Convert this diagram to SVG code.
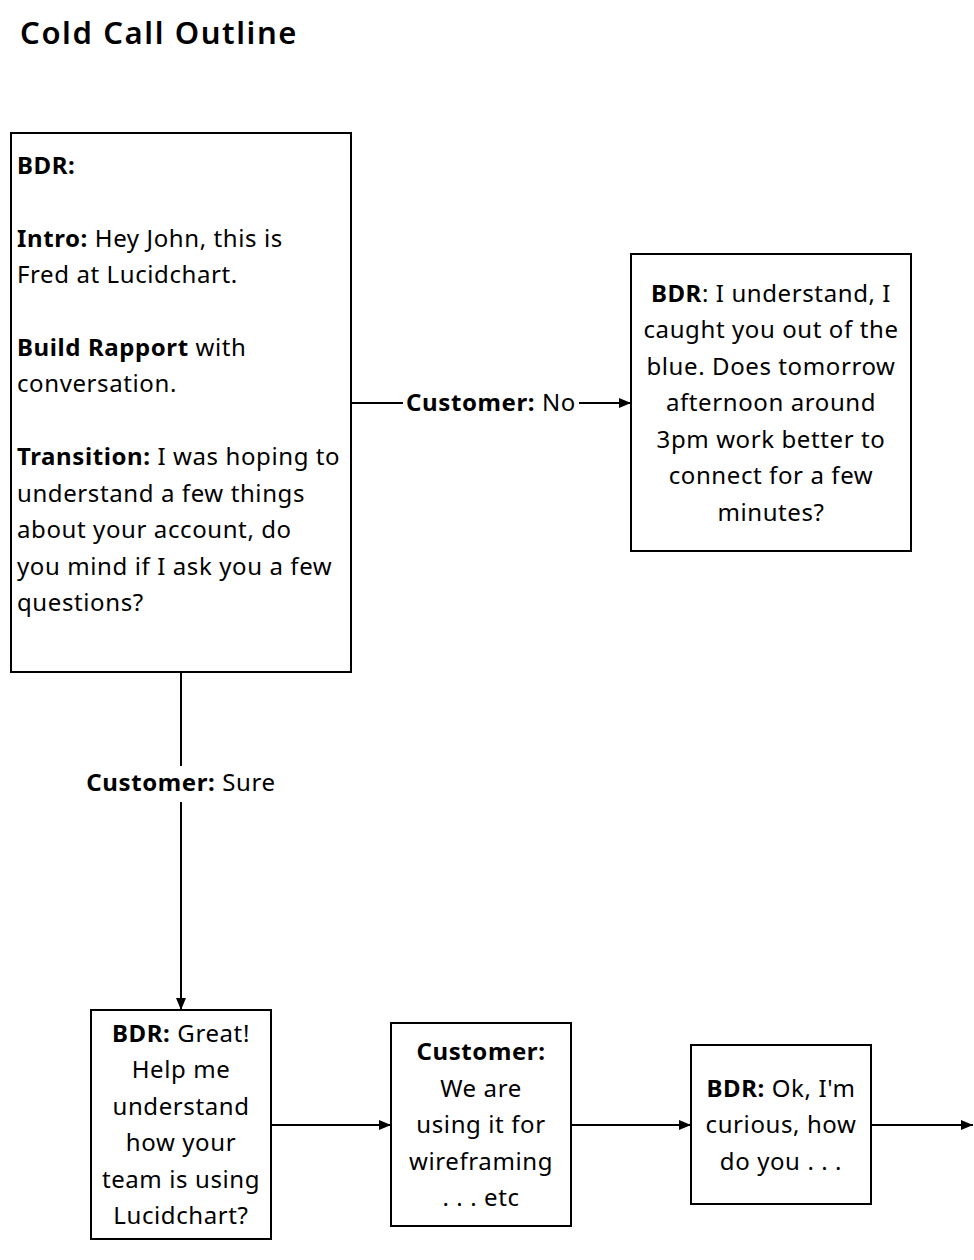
<svg xmlns="http://www.w3.org/2000/svg" width="974" height="1260" viewBox="0 0 974 1260">
<defs>
<style>
text{font-family:"Noto Sans",sans-serif;font-size:24px;letter-spacing:0.6px;fill:#000}
.b{font-weight:bold}
.c{text-anchor:middle}
.box{fill:#fff;stroke:#000;stroke-width:2}
.ln{stroke:#000;stroke-width:2;fill:none}
.lbg{fill:#fff}
</style>
<marker id="ah" viewBox="0 0 12 10" refX="12" refY="5" markerWidth="12" markerHeight="10" markerUnits="userSpaceOnUse" orient="auto">
<path d="M0,0 L12,5 L0,10 z" fill="#000"/>
</marker>
</defs>
<rect width="974" height="1260" fill="#fff"/>
<text id="title" x="20" y="44" style="font-size:31px;font-weight:600;letter-spacing:1.6px">Cold Call Outline</text>
<g id="connectors">
<line class="ln" x1="351" y1="403" x2="631" y2="403" marker-end="url(#ah)"/>
<rect class="lbg" x="403" y="388" width="176" height="30"/>
<text x="491" y="411" class="c"><tspan class="b">Customer:</tspan> No</text>
<line class="ln" x1="181" y1="672" x2="181" y2="1010" marker-end="url(#ah)"/>
<rect class="lbg" x="82" y="766" width="198" height="36"/>
<text x="181" y="791" class="c"><tspan class="b">Customer:</tspan> Sure</text>
<line class="ln" x1="271" y1="1125" x2="391" y2="1125" marker-end="url(#ah)"/>
<line class="ln" x1="571" y1="1125" x2="691" y2="1125" marker-end="url(#ah)"/>
<line class="ln" x1="871" y1="1125" x2="973" y2="1125" marker-end="url(#ah)"/>
</g>
<g id="node1">
<rect class="box" x="11" y="133" width="340" height="539"/>
<text x="17" y="174" class="b">BDR:</text>
<text x="17" y="247"><tspan class="b">Intro:</tspan> Hey John, this is</text>
<text x="17" y="283">Fred at Lucidchart.</text>
<text x="17" y="356"><tspan class="b">Build Rapport</tspan> with</text>
<text x="17" y="392">conversation.</text>
<text x="17" y="465"><tspan class="b">Transition:</tspan> I was hoping to</text>
<text x="17" y="502">understand a few things</text>
<text x="17" y="538">about your account, do</text>
<text x="17" y="575">you mind if I ask you a few</text>
<text x="17" y="611">questions?</text>
</g>
<g id="node2">
<rect class="box" x="631" y="254" width="280" height="297"/>
<text x="771" y="302" class="c"><tspan class="b">BDR</tspan>: I understand, I</text>
<text x="771" y="338" class="c">caught you out of the</text>
<text x="771" y="375" class="c">blue. Does tomorrow</text>
<text x="771" y="411" class="c">afternoon around</text>
<text x="771" y="448" class="c">3pm work better to</text>
<text x="771" y="484" class="c">connect for a few</text>
<text x="771" y="521" class="c">minutes?</text>
</g>
<g id="node3">
<rect class="box" x="91" y="1010" width="180" height="229"/>
<text x="181" y="1042" class="c"><tspan class="b">BDR:</tspan> Great!</text>
<text x="181" y="1078" class="c">Help me</text>
<text x="181" y="1115" class="c">understand</text>
<text x="181" y="1151" class="c">how your</text>
<text x="181" y="1188" class="c">team is using</text>
<text x="181" y="1224" class="c">Lucidchart?</text>
</g>
<g id="node4">
<rect class="box" x="391" y="1023" width="180" height="203"/>
<text x="481" y="1060" class="c b">Customer:</text>
<text x="481" y="1097" class="c">We are</text>
<text x="481" y="1133" class="c">using it for</text>
<text x="481" y="1170" class="c">wireframing</text>
<text x="481" y="1206" class="c">. . . etc</text>
</g>
<g id="node5">
<rect class="box" x="691" y="1045" width="180" height="159"/>
<text x="781" y="1097" class="c"><tspan class="b">BDR:</tspan> Ok, I'm</text>
<text x="781" y="1133" class="c">curious, how</text>
<text x="781" y="1170" class="c">do you . . .</text>
</g>
</svg>
